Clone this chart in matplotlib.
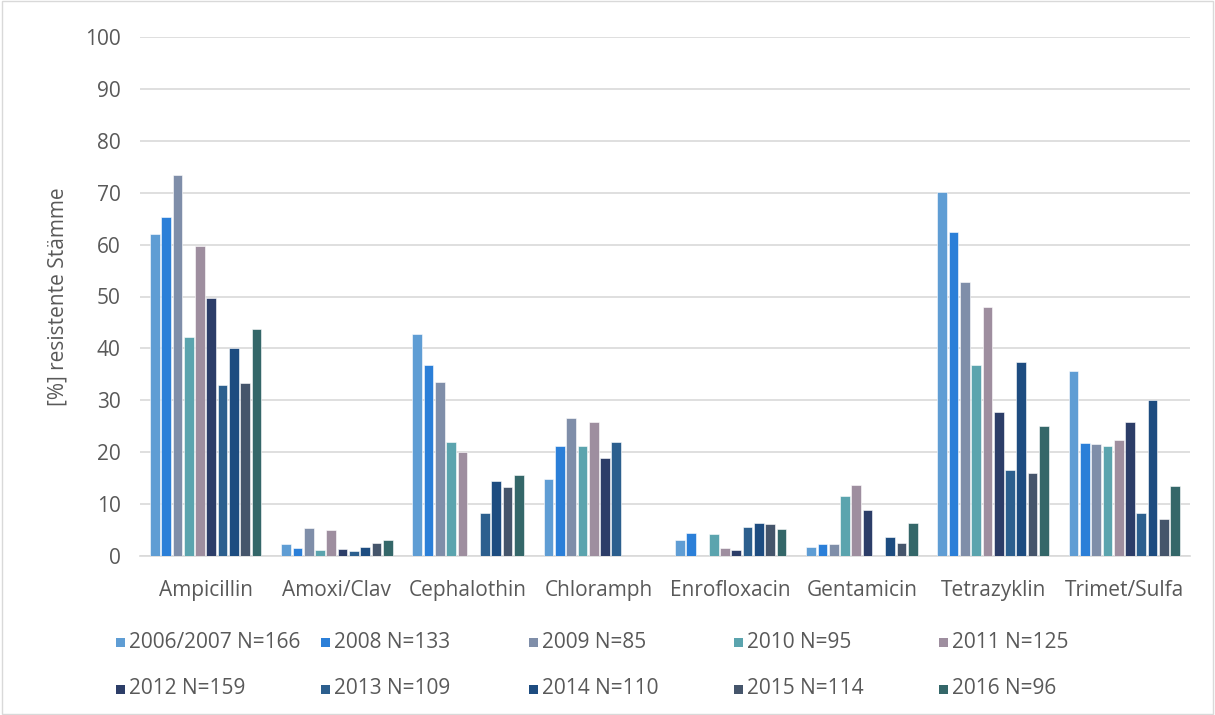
import numpy as np
import matplotlib
matplotlib.use("Agg")
import matplotlib.pyplot as plt
from matplotlib.patches import Rectangle

plt.rcParams['font.family'] = ['Open Sans', 'DejaVu Sans']

categories = ["Ampicillin", "Amoxi/Clav", "Cephalothin", "Chloramph", "Enrofloxacin",
              "Gentamicin", "Tetrazyklin", "Trimet/Sulfa"]
series_labels = ["2006/2007 N=166", "2008 N=133", "2009 N=85", "2010 N=95", "2011 N=125",
                 "2012 N=159", "2013 N=109", "2014 N=110", "2015 N=114", "2016 N=96"]
v_2006 = [62.0, 2.4, 42.8, 14.9, 3.0, 1.8, 70.2, 35.7]
v_2008 = [65.3, 1.5, 36.8, 21.1, 4.5, 2.3, 62.4, 21.8]
v_2009 = [73.5, 5.3, 33.5, 26.5, 0.0, 2.3, 52.8, 21.5]
v_2010 = [42.2, 1.1, 22.0, 21.1, 4.2, 11.6, 36.8, 21.1]
v_2011 = [59.8, 5.0, 20.0, 25.8, 1.5, 13.7, 48.0, 22.4]
v_2012 = [49.7, 1.3, 0.0, 18.8, 1.2, 8.9, 27.7, 25.8]
v_2013 = [33.0, 0.9, 8.3, 22.0, 5.5, 0.0, 16.6, 8.3]
v_2014 = [40.0, 1.7, 14.5, 0.0, 6.4, 3.7, 37.4, 30.0]
v_2015 = [33.3, 2.6, 13.2, 0.0, 6.1, 2.6, 15.9, 7.1]
v_2016 = [43.8, 3.1, 15.6, 0.0, 5.2, 6.3, 25.0, 13.5]
series = [v_2006, v_2008, v_2009, v_2010, v_2011, v_2012, v_2013, v_2014, v_2015, v_2016]
colors = ["#5f9dd4", "#2b7fd8", "#7f8ea9", "#5ba4ae", "#9e8e9f",
          "#2c3d68", "#2c5f8e", "#1d4c80", "#45556b", "#346769"]

TXT = "#595959"
FS = 15
W, H = 1215, 715
fig = plt.figure(figsize=(W/100, H/100), dpi=100)
fig.patches.append(Rectangle((0.002, 0.002), 0.996, 0.996, transform=fig.transFigure,
                             fill=False, edgecolor="#d9d9d9", linewidth=1))
ax = fig.add_axes([140/W, 1-556/H, 1050/W, 519/H])

x = np.arange(len(categories))
n = len(series)
slot = 0.086
bw = 0.074
for i, (vals, lab, c) in enumerate(zip(series, series_labels, colors)):
    ax.bar(x + (i - (n-1)/2) * slot, vals, width=bw, color=c, label=lab,
           edgecolor="white", linewidth=0.4, zorder=3)

ax.set_xlim(-0.5, len(categories) - 0.5)
ax.set_ylim(0, 100)
ax.set_yticks(np.arange(0, 101, 10))
ax.yaxis.grid(True, color="#d9d9d9", linewidth=1.2, zorder=0)
ax.set_axisbelow(True)
for s in ["left", "right", "top"]:
    ax.spines[s].set_visible(False)
ax.spines["bottom"].set_color("#d9d9d9")
ax.spines["bottom"].set_linewidth(1.2)
ax.tick_params(axis="both", length=0, labelsize=FS, colors=TXT)
ax.tick_params(axis="y", pad=14)
ax.tick_params(axis="x", pad=17)
ax.set_xticks(x)
ax.set_xticklabels(categories)
ax.set_ylabel("[%] resistente Stämme", fontsize=FS, color=TXT, labelpad=12)

# legend: 2 rows x 5 columns, row-major, equal column spacing
col_x = [116, 321, 529, 734, 939]
row_y = [642, 689]
msz = 9
for i, (lab, c) in enumerate(zip(series_labels, colors)):
    cx = col_x[i % 5]
    cy = row_y[i // 5]
    fig.patches.append(Rectangle((cx/W, 1-(cy+msz/2)/H), msz/W, msz/H,
                                 transform=fig.transFigure, facecolor=c, edgecolor="none"))
    fig.text((cx+msz+4)/W, 1-cy/H, lab, fontsize=FS, color=TXT, va="center", ha="left")

fig.savefig("out.png", dpi=100)
